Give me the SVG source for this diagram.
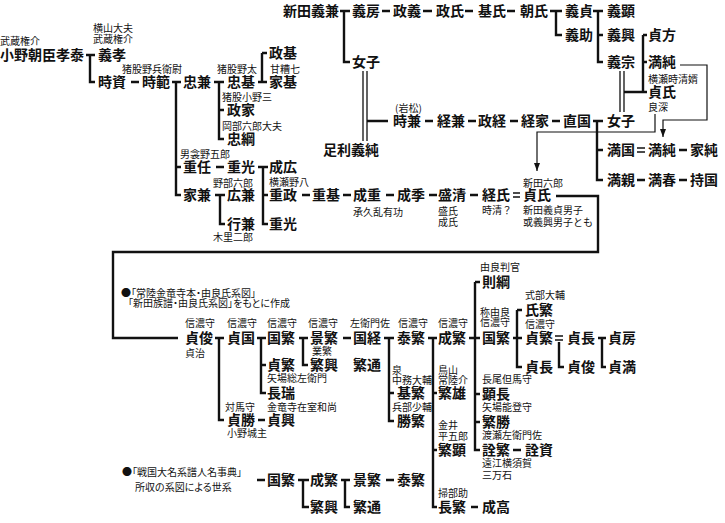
<svg xmlns="http://www.w3.org/2000/svg" width="725" height="523" viewBox="0 0 725 523">
<defs>
<style>
text{font-family:"Noto Sans CJK JP","Noto Sans CJK SC",sans-serif;fill:#111}
.n{font-size:14px;font-weight:700}
.s{font-size:10px}
.p{font-feature-settings:"palt"}
.c{fill:none;stroke:#111;stroke-width:2.4}
.t{fill:none;stroke:#111;stroke-width:1.2}
.d{fill:none;stroke:#111;stroke-width:1.3}
</style>
<marker id="ah" viewBox="0 0 8 6" refX="8" refY="3" markerWidth="8" markerHeight="6" markerUnits="userSpaceOnUse" orient="auto"><path d="M0,0L8,3L0,6z" fill="#111"/></marker>
</defs>
<rect width="725" height="523" fill="#fff"/>
<g id="connectors">
<path class="c" d="M340,11H350M344,11V62H350M382,11H390M423,11H432M465,11H473M507,11H515M550,11H562M556,11V35H562M593,11H603M598,11V62H603M598,35H603M643,35V92M643,35H647M643,62H647M643,92H647M624,92H643M425,121H433M468,121H476M510,121H518M552,121H560M593,121H603M597,121V180H603M597,150H603M367,121H388M679,150H687M637,180H645M679,180H687"/>
<path class="c" d="M86,55H95M90,55V82H95M131,82H139M172,82H181M176,82V195H181M176,167H181M214,82H224M219,82V139H224M219,110H224M258,82H267M262,53V82M262,53H267M216,167H224M258,167H268M263,167V224H268M263,195H268M215,195H225M220,195V224H225M302,195H310M343,195H351M386,195H394M429,195H437M470,195H478"/>
<path class="c" d="M556,196H598V252H113V338H178"/>
<path class="c" d="M215,338H224M219,338V420H224M257,338H266M261,338V393H266M261,365H266M299,338H308M303,338V365H308M343,338H351M384,338H394M389,338V421H394M389,393H394M428,338H437M433,338V507H437M433,393H437M433,450H437M469,338H480M475,282V450H480M475,282H480M475,394H480M475,422H480M513,338H522M517,310V367H522M517,310H522M559,342V367H564M598,338H606M602,338V367H606M258,420H265M513,450H521M471,507H478M257,480H265M298,480H309M303,480V507H309M341,480H350M345,480V507H350M386,480H394"/>
<path class="d" d="M637,148H645M637,152H645M513,193H520M513,197H520M555,336H563M555,340H563"/>
<path class="d" d="M620,71V112M624,71V112M363,71V141M367,71V141"/>
<path class="t" d="M680,65H707V120H663V137" marker-end="url(#ah)"/>
<path class="t" d="M655,114V132H537V171" marker-end="url(#ah)"/>
</g>
<g id="nitta">
<g id="n-yoshikane"><text class="n" x="283" y="16">新田義兼</text></g>
<g id="n-yoshifusa"><text class="n" x="352" y="16">義房</text></g>
<g id="n-masayoshi"><text class="n" x="393" y="16">政義</text></g>
<g id="n-masauji"><text class="n" x="436" y="16">政氏</text></g>
<g id="n-motouji"><text class="n" x="478" y="16">基氏</text></g>
<g id="n-tomouji"><text class="n" x="520" y="16">朝氏</text></g>
<g id="n-yoshisada"><text class="n" x="565" y="16">義貞</text></g>
<g id="n-yoshiaki"><text class="n" x="607" y="16">義顕</text></g>
<g id="n-yoshisuke"><text class="n" x="565" y="40">義助</text></g>
<g id="n-yoshioki"><text class="n" x="607" y="40">義興</text></g>
<g id="n-sadakata"><text class="n" x="648" y="40">貞方</text></g>
<g id="n-joshi1"><text class="n" x="352" y="67">女子</text></g>
<g id="n-yoshimune"><text class="n" x="607" y="67">義宗</text></g>
<g id="n-mitsuzumi1"><text class="n" x="648" y="67">満純</text></g>
<g id="n-sadauji1"><text class="s" x="648" y="83">横瀬時清婿</text><text class="n" x="648" y="97">貞氏</text><text class="s" x="648" y="111">良深</text></g>
<g id="n-tokikane"><text class="s" x="395" y="112">(岩松)</text><text class="n" x="393" y="126">時兼</text></g>
<g id="n-tsunekane"><text class="n" x="437" y="126">経兼</text></g>
<g id="n-masatsune"><text class="n" x="478" y="126">政経</text></g>
<g id="n-tsuneie"><text class="n" x="521" y="126">経家</text></g>
<g id="n-naokuni"><text class="n" x="563" y="126">直国</text></g>
<g id="n-joshi2"><text class="n" x="607" y="126">女子</text></g>
<g id="n-ashikaga"><text class="n" x="323" y="155">足利義純</text></g>
<g id="n-mitsukuni"><text class="n" x="607" y="155">満国</text></g>
<g id="n-mitsuzumi2"><text class="n" x="648" y="155">満純</text></g>
<g id="n-iezumi"><text class="n" x="690" y="155">家純</text></g>
<g id="n-mitsuchika"><text class="n" x="607" y="185">満親</text></g>
<g id="n-mitsuharu"><text class="n" x="648" y="185">満春</text></g>
<g id="n-mochikuni"><text class="n" x="690" y="185">持国</text></g>
</g>
<g id="ono">
<g id="n-takayasu"><text class="s" x="0" y="45">武蔵権介</text><text class="n" x="0" y="60">小野朝臣孝泰</text></g>
<g id="n-yoshitaka"><text class="s" x="93" y="32">横山大夫</text><text class="s" x="93" y="43">武蔵権介</text><text class="n" x="98" y="60">義孝</text></g>
<g id="n-tokisuke"><text class="n" x="98" y="87">時資</text></g>
<g id="n-tokinori"><text class="s" x="122" y="73">猪股野兵衛尉</text><text class="n" x="142" y="87">時範</text></g>
<g id="n-tadakane"><text class="n" x="183" y="87">忠兼</text></g>
<g id="n-tadamoto"><text class="s" x="217" y="73">猪股野太</text><text class="n" x="227" y="87">忠基</text></g>
<g id="n-masamoto"><text class="n" x="269" y="58">政基</text></g>
<g id="n-iemoto"><text class="s" x="270" y="73">甘糟七</text><text class="n" x="269" y="87">家基</text></g>
<g id="n-masaie"><text class="s" x="222" y="101">猪股小野三</text><text class="n" x="227" y="115">政家</text></g>
<g id="n-tadatsuna"><text class="s" x="222" y="130">岡部六郎大夫</text><text class="n" x="227" y="144">忠綱</text></g>
<g id="n-shigetou"><text class="s" x="180" y="158">男衾野五郎</text><text class="n" x="183" y="172">重任</text></g>
<g id="n-shigemitsu1"><text class="n" x="227" y="172">重光</text></g>
<g id="n-narihiro"><text class="n" x="269" y="172">成広</text></g>
<g id="n-shigemasa"><text class="s" x="269" y="186">横瀬野八</text><text class="n" x="269" y="200">重政</text></g>
<g id="n-shigemoto"><text class="n" x="312" y="200">重基</text></g>
<g id="n-narishige"><text class="n" x="353" y="200">成重</text><text class="s" x="353" y="216">承久乱有功</text></g>
<g id="n-narisue"><text class="n" x="397" y="200">成季</text></g>
<g id="n-morikiyo"><text class="n" x="438" y="200">盛清</text><text class="s" x="438" y="215">盛氏</text><text class="s" x="438" y="226">成氏</text></g>
<g id="n-tsuneuji"><text class="n" x="482" y="200">経氏</text><text class="s" x="482" y="214">時清？</text></g>
<g id="n-sadauji2"><text class="s" x="523" y="187">新田六郎</text><text class="n" x="523" y="200">貞氏</text><text class="s" x="523" y="214">新田義貞男子</text><text class="s" x="523" y="226">或義興男子とも</text></g>
<g id="n-iekane"><text class="n" x="183" y="200">家兼</text></g>
<g id="n-hirokane"><text class="s" x="213" y="187">野部六郎</text><text class="n" x="227" y="200">広兼</text></g>
<g id="n-yukikane"><text class="n" x="227" y="229">行兼</text><text class="s" x="213" y="241">木里二郎</text></g>
<g id="n-shigemitsu2"><text class="n" x="269" y="229">重光</text></g>
</g>
<g id="notes">
<text class="s p" x="121" y="297">●「常陸金竜寺本・由良氏系図」</text>
<text class="s p" x="128" y="307">「新田族譜・由良氏系図」をもとに作成</text>
<text class="s p" x="122" y="476">●「戦国大名系譜人名事典」</text>
<text class="s p" x="135" y="491">所収の系図による世系</text>
</g>
<g id="yura">
<g id="n-norituna"><text class="s" x="480" y="271">由良判官</text><text class="n" x="482" y="287">則綱</text></g>
<g id="n-sadatoshi"><text class="s" x="185" y="327">信濃守</text><text class="n" x="185" y="343">貞俊</text><text class="s" x="185" y="357">貞治</text></g>
<g id="n-sadakuni"><text class="s" x="227" y="327">信濃守</text><text class="n" x="227" y="343">貞国</text></g>
<g id="n-kunishige1"><text class="s" x="267" y="327">信濃守</text><text class="n" x="267" y="343">国繁</text></g>
<g id="n-kageshige1"><text class="s" x="308" y="327">信濃守</text><text class="n" x="310" y="343">景繁</text><text class="s" x="312" y="355">業繁</text></g>
<g id="n-kunitsune"><text class="s" x="350" y="327">左衛門佐</text><text class="n" x="353" y="343">国経</text></g>
<g id="n-yasushige1"><text class="s" x="398" y="327">信濃守</text><text class="n" x="397" y="343">泰繁</text></g>
<g id="n-narishige1"><text class="s" x="438" y="327">信濃守</text><text class="n" x="438" y="343">成繁</text></g>
<g id="n-ujishige"><text class="s" x="525" y="299">式部大輔</text><text class="n" x="525" y="315">氏繁</text></g>
<g id="n-kunishige2"><text class="s" x="480" y="316">称由良</text><text class="s" x="480" y="326">信濃守</text><text class="n" x="482" y="343">国繁</text></g>
<g id="n-sadashige2"><text class="s" x="525" y="328">信濃守</text><text class="n" x="525" y="343">貞繁</text></g>
<g id="n-sadanaga1"><text class="n" x="567" y="343">貞長</text></g>
<g id="n-sadafusa"><text class="n" x="608" y="343">貞房</text></g>
<g id="n-sadashige1"><text class="n" x="267" y="370">貞繁</text><text class="s" x="267" y="382">矢場総左衛門</text></g>
<g id="n-shigeoki1"><text class="n" x="310" y="370">繁興</text></g>
<g id="n-shigemichi1"><text class="n" x="353" y="370">繁通</text></g>
<g id="n-sadanaga2"><text class="n" x="525" y="372">貞長</text></g>
<g id="n-sadatoshi2"><text class="n" x="567" y="372">貞俊</text></g>
<g id="n-sadamitsu"><text class="n" x="608" y="372">貞満</text></g>
<g id="n-motoshige"><text class="s" x="392" y="374">泉</text><text class="s" x="392" y="384">中務大輔</text><text class="n" x="397" y="398">基繁</text></g>
<g id="n-shigeo"><text class="s" x="438" y="374">鳥山</text><text class="s" x="438" y="384">常陸介</text><text class="n" x="438" y="398">繁雄</text></g>
<g id="n-akinaga"><text class="s" x="482" y="383">長尾但馬守</text><text class="n" x="482" y="399">顕長</text></g>
<g id="n-nagamizu"><text class="n" x="267" y="398">長瑞</text><text class="s" x="267" y="411">金竜寺在室和尚</text></g>
<g id="n-sadakatsu"><text class="s" x="225" y="411">対馬守</text><text class="n" x="227" y="425">貞勝</text><text class="s" x="227" y="437">小野城主</text></g>
<g id="n-sadaoki"><text class="n" x="267" y="425">貞興</text></g>
<g id="n-katsushige"><text class="s" x="392" y="411">兵部少輔</text><text class="n" x="397" y="426">勝繁</text></g>
<g id="n-shigekatsu"><text class="s" x="482" y="411">矢場能登守</text><text class="n" x="482" y="427">繁勝</text></g>
<g id="n-shigeaki"><text class="s" x="438" y="429">金井</text><text class="s" x="438" y="440">平五郎</text><text class="n" x="438" y="455">繁顕</text></g>
<g id="n-akishige"><text class="s" x="482" y="439">渡瀬左衛門佐</text><text class="n" x="482" y="455">詮繁</text><text class="s" x="482" y="467">遠江横須賀</text><text class="s" x="482" y="479">三万石</text></g>
<g id="n-akisuke"><text class="n" x="525" y="455">詮資</text></g>
<g id="n-naga"><text class="s" x="438" y="497">掃部助</text><text class="n" x="438" y="512">長繁</text></g>
<g id="n-naritaka"><text class="n" x="482" y="512">成高</text></g>
<g id="n-kunishige3"><text class="n" x="267" y="485">国繁</text></g>
<g id="n-narishige3"><text class="n" x="310" y="485">成繁</text></g>
<g id="n-kageshige3"><text class="n" x="353" y="485">景繁</text></g>
<g id="n-yasushige3"><text class="n" x="397" y="485">泰繁</text></g>
<g id="n-shigeoki3"><text class="n" x="310" y="512">繁興</text></g>
<g id="n-shigemichi3"><text class="n" x="353" y="512">繁通</text></g>
</g>
</svg>
